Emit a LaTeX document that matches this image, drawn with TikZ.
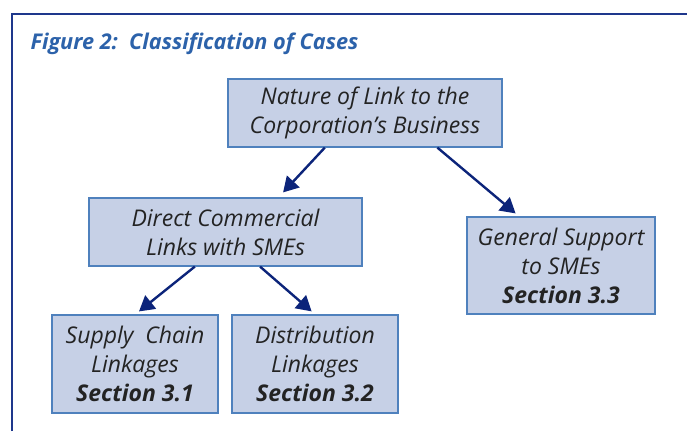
\documentclass[tikz,border=0pt]{standalone}
\usepackage{fontspec}
\setmainfont{Open Sans}
\usetikzlibrary{arrows.meta,calc}
\definecolor{boxfill}{RGB}{198,208,230}
\definecolor{boxline}{RGB}{79,129,189}
\definecolor{arrowc}{RGB}{12,36,122}
\definecolor{framec}{RGB}{30,55,140}
\definecolor{titlec}{RGB}{44,98,170}
\definecolor{textc}{RGB}{35,35,35}
\tikzset{
  catbox/.style={draw=boxline, line width=1.2pt, fill=boxfill, align=center, inner sep=0pt,
    text=textc, font=\fontsize{23}{29}\selectfont\itshape},
  link/.style={draw=arrowc, line width=2.4pt, -{Triangle[length=15pt,width=17pt]}}
}
\begin{document}
\begin{tikzpicture}[x=1pt,y=-1pt]
\useasboundingbox (0,0) rectangle (687,431);
\coordinate (fa) at (12,431);
\coordinate (fb) at (12,14);
\coordinate (fc) at (687,14);
\draw[framec, line width=1.5pt] (fa) -- (fb) -- (fc);
\node[anchor=base west, text=titlec, font=\fontsize{21.7}{25}\selectfont\bfseries\itshape] (title) at (27,49) {Figure 2:\ \ Classification of Cases};
\node[catbox, minimum width=274pt, minimum height=68pt] (top) at (365,113) {Nature of Link to the\\Corporation's Business};
\node[catbox, minimum width=273pt, minimum height=68pt] (direct) at (225.5,232) {Direct Commercial\\Links with SMEs};
\node[catbox, minimum width=188pt, minimum height=97pt] (general) at (561,265.5) {General Support\\to SMEs\\\textbf{Section 3.3}};
\node[catbox, minimum width=166pt, minimum height=98pt] (supply) at (135,364) {Supply\ \ Chain\\Linkages\\\textbf{Section 3.1}};
\node[catbox, minimum width=166pt, minimum height=98pt] (distr) at (315,364) {Distribution\\Linkages\\\textbf{Section 3.2}};
\draw[link] ($(top.south west)!0.354!(top.south east)$) -- ($(direct.north west)!0.71!(direct.north east)+(0,-5)$);
\draw[link] ($(top.south west)!0.763!(top.south east)$) -- ($(general.north west)!0.26!(general.north east)+(0,-3)$);
\draw[link] ($(direct.south west)!0.388!(direct.south east)$) -- ($(supply.north west)!0.524!(supply.north east)+(0,-3)$);
\draw[link] ($(direct.south west)!0.626!(direct.south east)$) -- ($(distr.north west)!0.48!(distr.north east)+(0,-3)$);
\end{tikzpicture}
\end{document}
